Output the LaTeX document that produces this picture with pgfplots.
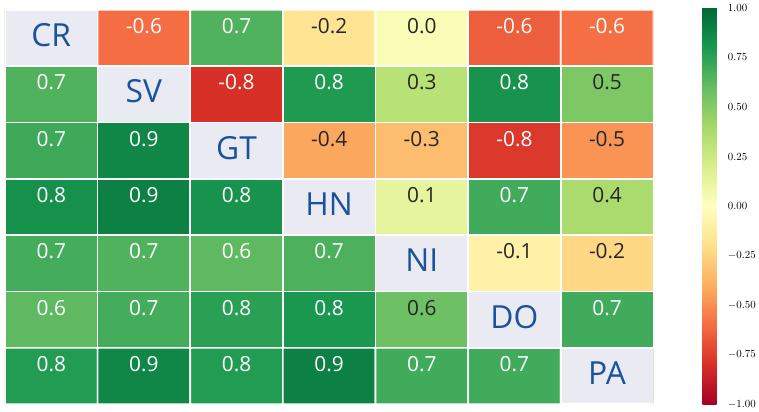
\documentclass[border=0pt]{standalone}
\usepackage{pgfplots}
\pgfplotsset{compat=1.18}
\usepackage{fontspec}
\setmainfont{Open Sans}
\definecolor{diagc}{RGB}{234,234,242}
\definecolor{codec}{RGB}{26,82,158}
\definecolor{darkt}{RGB}{38,38,38}
\begin{document}
\begin{tikzpicture}
\begin{axis}[
  scale only axis,
  width=653pt, height=397pt,
  xmin=-0.5, xmax=6.5, ymin=-0.5, ymax=6.5,
  y dir=reverse,
  enlargelimits=false,
  xtick=\empty, ytick=\empty,
  axis line style={draw=none},
  colormap={RdYlGn}{rgb255=(165,0,38) rgb255=(215,48,39) rgb255=(244,109,67) rgb255=(253,174,97) rgb255=(254,224,139) rgb255=(255,255,191) rgb255=(217,239,139) rgb255=(166,217,106) rgb255=(102,189,99) rgb255=(26,152,80) rgb255=(0,104,55)},
  point meta min=-1, point meta max=1,
  colorbar,
  colorbar style={
    at={(parent axis.north east)}, anchor=north west,
    xshift=41pt, yshift=2pt,
    width=22pt, height=399pt,
    ytick={-1,-0.75,-0.5,-0.25,0,0.25,0.5,0.75,1},
    yticklabel style={/pgf/number format/.cd, fixed, fixed zerofill, precision=2},
    tick label style={font=\fontsize{10.5}{12}\selectfont},
    major tick length=0pt,
    axis line style={draw=none},
  },
]
\addplot[matrix plot*, mesh/cols=7, point meta=explicit, draw=white, line width=1.6pt] table[meta=c] {
x y c
0 0 1
1 0 -0.60
2 0 0.66
3 0 -0.17
4 0 0.04
5 0 -0.65
6 0 -0.59
0 1 0.66
1 1 1
2 1 -0.80
3 1 0.79
4 1 0.33
5 1 0.82
6 1 0.53
0 2 0.71
1 2 0.87
2 2 1
3 2 -0.42
4 2 -0.34
5 2 -0.77
6 2 -0.48
0 3 0.83
1 3 0.90
2 3 0.82
3 3 1
4 3 0.13
5 3 0.70
6 3 0.38
0 4 0.69
1 4 0.66
2 4 0.62
3 4 0.67
4 4 1
5 4 -0.09
6 4 -0.23
0 5 0.62
1 5 0.69
2 5 0.76
3 5 0.80
4 5 0.58
5 5 1
6 5 0.70
0 6 0.78
1 6 0.87
2 6 0.78
3 6 0.90
4 6 0.70
5 6 0.70
6 6 1
};
\addplot[fill=diagc, draw=white, line width=1.6pt] coordinates {(-0.5,-0.5) (0.5,-0.5) (0.5,0.5) (-0.5,0.5)} -- cycle;
\addplot[fill=diagc, draw=white, line width=1.6pt] coordinates {(0.5,0.5) (1.5,0.5) (1.5,1.5) (0.5,1.5)} -- cycle;
\addplot[fill=diagc, draw=white, line width=1.6pt] coordinates {(1.5,1.5) (2.5,1.5) (2.5,2.5) (1.5,2.5)} -- cycle;
\addplot[fill=diagc, draw=white, line width=1.6pt] coordinates {(2.5,2.5) (3.5,2.5) (3.5,3.5) (2.5,3.5)} -- cycle;
\addplot[fill=diagc, draw=white, line width=1.6pt] coordinates {(3.5,3.5) (4.5,3.5) (4.5,4.5) (3.5,4.5)} -- cycle;
\addplot[fill=diagc, draw=white, line width=1.6pt] coordinates {(4.5,4.5) (5.5,4.5) (5.5,5.5) (4.5,5.5)} -- cycle;
\addplot[fill=diagc, draw=white, line width=1.6pt] coordinates {(5.5,5.5) (6.5,5.5) (6.5,6.5) (5.5,6.5)} -- cycle;
% white labels
\addplot[only marks, mark=none, nodes near coords, point meta=explicit symbolic,
  nodes near coords style={anchor=center, text=white, font=\fontsize{21}{24}\selectfont, yshift=12pt}]
  table[meta=lab] {
x y lab
1 0 -0.6
2 0 0.7
5 0 -0.6
6 0 -0.6
0 1 0.7
2 1 -0.8
3 1 0.8
5 1 0.8
0 2 0.7
1 2 0.9
5 2 -0.8
0 3 0.8
1 3 0.9
2 3 0.8
5 3 0.7
0 4 0.7
1 4 0.7
2 4 0.6
3 4 0.7
0 5 0.6
1 5 0.7
2 5 0.8
3 5 0.8
6 5 0.7
0 6 0.8
1 6 0.9
2 6 0.8
3 6 0.9
4 6 0.7
5 6 0.7
};
% dark labels
\addplot[only marks, mark=none, nodes near coords, point meta=explicit symbolic,
  nodes near coords style={anchor=center, text=darkt, font=\fontsize{21}{24}\selectfont, yshift=12pt}]
  table[meta=lab] {
x y lab
3 0 -0.2
4 0 0.0
4 1 0.3
6 1 0.5
3 2 -0.4
4 2 -0.3
6 2 -0.5
4 3 0.1
6 3 0.4
5 4 -0.1
6 4 -0.2
4 5 0.6
};
% codes
\addplot[only marks, mark=none, nodes near coords, point meta=explicit symbolic,
  nodes near coords style={anchor=center, text=codec, font=\fontsize{32}{36}\selectfont, yshift=3pt}]
  table[meta=lab] {
x y lab
0 0 CR
1 1 SV
2 2 GT
3 3 HN
4 4 NI
5 5 DO
6 6 PA
};
\end{axis}
\path (-5pt,-6pt) rectangle (700pt,407pt);
\end{tikzpicture}
\end{document}
